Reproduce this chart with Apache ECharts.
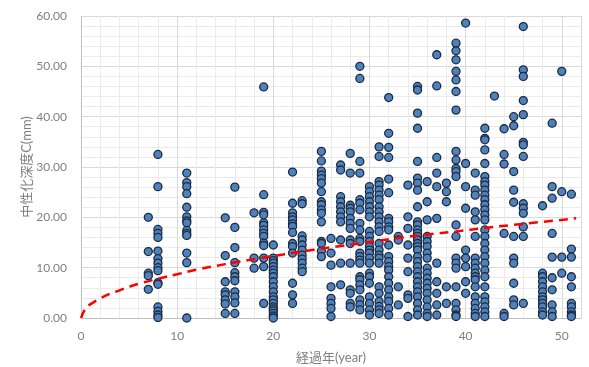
<!DOCTYPE html>
<html>
<head>
<meta charset="utf-8">
<script src="https://cdn.jsdelivr.net/npm/echarts@6/dist/echarts.min.js"></script>
<style>html,body{margin:0;padding:0;background:#fff;}#c{width:589px;height:367px;}</style>
</head>
<body>
<div id="c"></div>
<script>
// Years (x) of each measured column
const years = [7, 8, 11, 15, 16, 18, 19, 20, 22, 23, 25, 26, 27, 28, 29, 30, 31, 32, 33, 34, 35, 36, 37, 38, 39, 40, 41, 42, 43, 44, 45, 46, 48, 49, 50, 51];
// Carbonation depth values (mm) per year
const depths = [
  [20.0, 13.2, 8.9, 8.4, 5.7],
  [32.5, 26.1, 17.6, 16.8, 16.0, 13.3, 11.8, 10.9, 10.0, 9.4, 7.0, 6.7, 2.2, 1.3, 0.6, 0.1],
  [28.8, 26.9, 26.1, 24.7, 22.0, 20.1, 19.3, 18.9, 17.4, 16.8, 16.4, 12.9, 11.0, 0.0],
  [19.9, 12.4, 7.2, 5.2, 4.6, 3.6, 2.8, 0.9],
  [26.0, 18.0, 14.0, 11.0, 9.0, 8.2, 7.4, 5.2, 4.2, 3.0, 0.9],
  [20.9, 11.9, 9.9],
  [45.9, 24.5, 21.0, 20.5, 18.9, 18.4, 17.5, 16.8, 16.2, 14.9, 14.4, 11.9, 10.2, 2.9],
  [14.5, 11.9, 11.4, 10.9, 10.2, 9.5, 8.9, 8.2, 7.2, 6.2, 5.2, 4.2, 3.6, 2.9, 2.2, 1.8, 1.4, 0.9, 0.4, 0.0],
  [29.0, 22.8, 20.9, 20.1, 19.5, 18.7, 18.2, 17.0, 14.8, 14.2, 12.9, 6.9, 4.6, 2.9],
  [23.3, 22.7, 16.3, 15.5, 14.5, 13.5, 12.5, 11.7, 10.9, 9.9, 9.2],
  [33.1, 31.2, 29.2, 28.4, 27.7, 26.8, 25.1, 23.1, 22.5, 21.5, 20.8, 19.1, 15.2, 14.8, 13.3, 12.2],
  [15.8, 12.9, 10.5, 6.2, 3.9, 2.9, 1.9, 0.3],
  [30.4, 29.4, 24.1, 23.1, 22.1, 21.1, 20.1, 19.1, 15.5, 10.9, 6.6],
  [32.7, 28.8, 22.4, 21.8, 21.1, 19.8, 18.8, 17.8, 15.5, 14.8, 10.9, 5.6, 4.9, 2.9, 2.2],
  [50.0, 47.6, 31.1, 28.8, 23.5, 22.8, 21.5, 18.8, 17.5, 15.8, 15.2, 12.9, 12.2, 11.5, 10.9, 8.2, 7.6, 6.6, 5.6, 3.6, 2.6, 1.6],
  [26.1, 25.1, 24.1, 23.1, 22.1, 21.1, 20.1, 17.2, 16.2, 15.2, 14.2, 13.5, 12.9, 11.9, 10.9, 8.9, 8.2, 6.9, 4.2, 2.9, 1.6, 0.6],
  [34.0, 32.1, 27.1, 26.4, 25.4, 24.4, 23.5, 22.1, 21.1, 20.1, 19.1, 18.1, 17.2, 14.8, 13.5, 12.5, 11.9, 10.9, 6.2, 4.9, 3.3, 2.3, 1.6, 0.9],
  [43.8, 36.7, 33.9, 31.9, 27.6, 24.9, 19.8, 19.1, 18.1, 17.5, 14.5, 12.2, 11.2, 10.2, 9.5, 8.2, 6.9, 5.6, 4.2, 3.3, 1.9, 0.6],
  [16.2, 15.5, 6.2, 2.6],
  [26.4, 20.1, 17.8, 14.5, 11.9, 9.2, 4.6, 3.9, 0.3],
  [46.0, 45.3, 40.7, 37.7, 31.1, 27.8, 26.8, 25.4, 22.1, 19.1, 18.5, 17.5, 16.8, 16.2, 15.5, 14.8, 14.2, 13.5, 12.2, 11.2, 10.2, 9.2, 8.2, 7.2, 6.2, 5.2, 4.2, 2.9, 1.6, 0.6],
  [27.1, 23.1, 19.5, 16.2, 15.2, 14.2, 12.9, 11.9, 9.9, 8.9, 7.9, 6.9, 5.9, 4.9, 3.6, 2.2, 0.9, 0.3],
  [52.3, 46.1, 31.9, 28.8, 26.1, 19.8, 10.9, 7.2, 4.9, 2.6, 0.6],
  [26.8, 25.1, 23.1, 6.2, 2.9],
  [54.6, 53.1, 51.3, 49.0, 47.3, 45.0, 41.3, 33.1, 31.4, 29.7, 29.1, 28.1, 18.5, 16.2, 11.9, 10.9, 9.9, 6.2, 2.9, 1.6, 0.6, 0.3],
  [58.6, 30.7, 26.1, 21.8, 13.5, 11.9, 10.2, 7.2, 4.9],
  [28.8, 25.4, 24.4, 21.1, 19.5, 16.2, 11.9, 10.9, 9.9, 8.9, 8.2, 7.6, 6.2, 4.2, 2.9, 1.9, 0.9, 0.3],
  [37.7, 35.7, 35.4, 33.4, 30.7, 28.1, 27.1, 26.4, 25.4, 24.4, 23.5, 22.5, 21.5, 20.5, 19.5, 17.5, 16.2, 14.8, 13.5, 12.2, 10.9, 9.5, 8.2, 6.2, 4.2, 3.2, 2.2, 1.2, 0.3],
  [44.1],
  [37.6, 32.5, 30.6, 16.8, 0.9, 0.3],
  [40.0, 38.2, 29.1, 25.4, 23.0, 16.2, 11.9, 10.9, 6.9, 3.6, 2.6],
  [57.9, 49.3, 48.0, 43.2, 40.4, 34.9, 34.4, 32.1, 22.7, 21.8, 20.8, 18.1, 16.2, 2.9],
  [22.3, 8.9, 8.2, 7.2, 6.2, 5.2, 4.2, 3.6, 2.9, 2.2, 1.2, 0.6],
  [38.7, 26.1, 23.8, 16.8, 12.1, 8.0, 5.6, 2.6, 1.2, 0.3],
  [49.0, 25.1, 12.1, 8.9],
  [24.6, 13.7, 12.1, 8.2, 6.2, 2.9, 2.2, 1.2, 0.6, 0.3]
];
// Fitted curve points
const curveX = [0, 0.5, 1, 2, 3, 4, 5, 6, 8, 10, 12, 15, 18, 21, 24, 27, 30, 33, 36, 39, 42, 45, 48, 51.5];
const curveY = [0, 1.95, 2.76, 3.9, 4.8, 5.5, 6.2, 6.8, 7.8, 8.7, 9.6, 10.7, 11.7, 12.6, 13.5, 14.3, 15.1, 15.9, 16.6, 17.2, 17.9, 18.5, 19.1, 19.8];
const yTicks = [0, 10, 20, 30, 40, 50, 60];

const points = [];
years.forEach((yr, i) => depths[i].forEach(v => points.push([yr, v])));
const curve = curveX.map((x, i) => [x, curveY[i]]);

const chart = echarts.init(document.getElementById('c'), null, {renderer: 'canvas'});
const labelFont = 'Lato, "Noto Sans CJK JP", sans-serif';
chart.setOption({
  animation: false,
  backgroundColor: '#ffffff',
  grid: {left: 81, right: 8, top: 16, bottom: 49, containLabel: false, outerBoundsMode: 'none'},
  xAxis: {
    type: 'value', min: 0, max: 52, interval: 10,
    name: '経過年(year)', nameLocation: 'middle', nameGap: 33, nameMoveOverlap: false,
    nameTextStyle: {color: '#7f7f7f', fontSize: 13, fontFamily: labelFont},
    axisLine: {show: true, lineStyle: {color: '#bfbfbf', width: 1}},
    axisTick: {show: false},
    axisLabel: {color: '#7f7f7f', fontSize: 12, fontFamily: labelFont, margin: 12, showMaxLabel: false},
    splitLine: {show: true, lineStyle: {color: '#d9d9d9', width: 1}},
    minorTick: {show: false, splitNumber: 5},
    minorSplitLine: {show: true, lineStyle: {color: '#ebebeb', width: 1}}
  },
  yAxis: {
    type: 'value', min: yTicks[0], max: yTicks[yTicks.length - 1], interval: 10,
    name: '中性化深度C(mm)', nameLocation: 'middle', nameGap: 48, nameMoveOverlap: false,
    nameTextStyle: {color: '#7f7f7f', fontSize: 13, fontFamily: labelFont},
    axisLine: {show: true, lineStyle: {color: '#bfbfbf', width: 1}},
    axisTick: {show: false},
    axisLabel: {color: '#7f7f7f', fontSize: 12, fontFamily: labelFont, margin: 14,
      formatter: v => v.toFixed(2)},
    splitLine: {show: true, lineStyle: {color: '#d9d9d9', width: 1}},
    minorTick: {show: false, splitNumber: 5},
    minorSplitLine: {show: true, lineStyle: {color: '#ebebeb', width: 1}}
  },
  series: [
    {
      type: 'scatter', data: points, symbol: 'circle', symbolSize: 8,
      itemStyle: {color: '#4f81bd', borderColor: '#1c2b3f', borderWidth: 1.3, opacity: 1},
      z: 2
    },
    {
      type: 'line', data: curve, smooth: true, showSymbol: false, symbol: 'none',
      lineStyle: {color: '#ff0000', width: 2.5, type: [9, 6]},
      z: 3
    }
  ]
});
</script>
</body>
</html>
